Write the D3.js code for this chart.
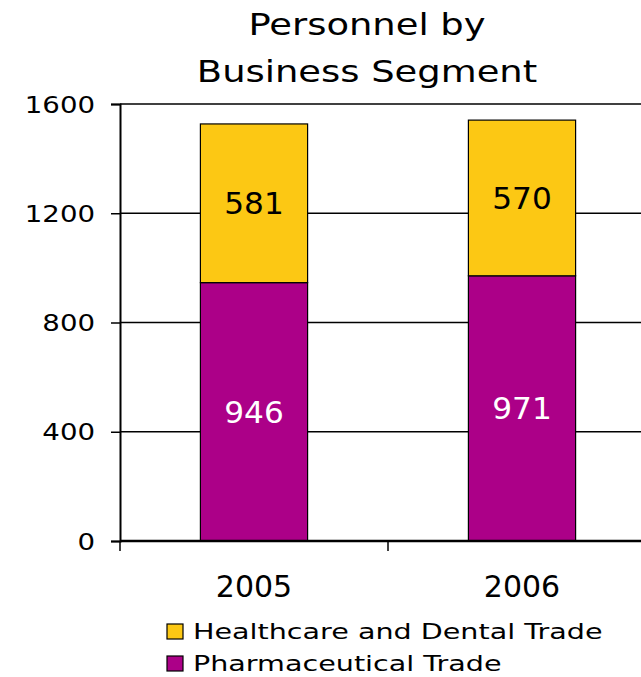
<!DOCTYPE html>
<html>
<head>
<meta charset="utf-8">
<script src="https://cdn.jsdelivr.net/npm/d3@7"></script>
<style>
  html, body { margin: 0; padding: 0; background: #fff; }
  svg { display: block; font-family: "DejaVu Sans", Verdana, sans-serif; }
</style>
</head>
<body>
<svg id="chart" width="641" height="677"></svg>
<script>
// Personnel counts per business segment, stacked by year
const years = ["2005", "2006"];
const pharmaceutical = [946, 971];
const healthcareDental = [581, 570];
const seriesNames = ["Healthcare and Dental Trade", "Pharmaceutical Trade"];
const yTicks = [0, 400, 800, 1200, 1600];

const colors = { pharma: "#AC0088", health: "#FCC814" };

const svg = d3.select("#chart");

// Widen a text element horizontally around its anchor point
function widen(sel, sx) {
  sel.each(function () {
    const t = d3.select(this);
    const x = +t.attr("x") || 0;
    const y = +t.attr("y") || 0;
    t.attr("x", 0).attr("y", 0)
      .attr("transform", `translate(${x},${y}) scale(${sx},1)`);
  });
}

const x = d3.scaleBand()
  .domain(years)
  .range([120, 656])
  .paddingInner(0.6)
  .paddingOuter(0.3);

const y = d3.scaleLinear().domain([0, 1600]).range([541, 104]);

// Title
const titleLines = ["Personnel by", "Business Segment"];
svg.append("g")
  .selectAll("text")
  .data(titleLines)
  .join("text")
  .attr("x", 367)
  .attr("y", (d, i) => 35 + i * 47)
  .attr("text-anchor", "middle")
  .attr("font-size", 30)
  .text(d => d)
  .call(widen, 1.23);

// Horizontal gridlines
svg.append("g")
  .selectAll("line")
  .data(yTicks.filter(d => d > 0))
  .join("line")
  .attr("x1", 120).attr("x2", 641)
  .attr("y1", d => y(d)).attr("y2", d => y(d))
  .attr("stroke", "#000").attr("stroke-width", 1.5);

// Stacked data
const rows = years.map((yr, i) => ({ year: yr, pharma: pharmaceutical[i], health: healthcareDental[i] }));
const stack = d3.stack().keys(["pharma", "health"])(rows);

svg.append("g")
  .selectAll("g")
  .data(stack)
  .join("g")
  .attr("fill", d => colors[d.key])
  .selectAll("rect")
  .data(d => d)
  .join("rect")
  .attr("x", d => x(d.data.year))
  .attr("width", x.bandwidth())
  .attr("y", d => y(d[1]))
  .attr("height", d => y(d[0]) - y(d[1]))
  .attr("stroke", "#000")
  .attr("stroke-width", 1.2);

// Value labels inside segments
stack.forEach(s => {
  svg.append("g")
    .selectAll("text")
    .data(s)
    .join("text")
    .attr("x", d => x(d.data.year) + x.bandwidth() / 2)
    .attr("y", d => (y(d[0]) + y(d[1])) / 2 + 11)
    .attr("text-anchor", "middle")
    .attr("font-size", 30)
    .attr("fill", s.key === "pharma" ? "#fff" : "#000")
    .text(d => d.data[s.key])
    .call(widen, 1.04);
});

// Y axis
const yAxis = d3.axisLeft(y).tickValues(yTicks).tickFormat(d3.format("d")).tickSize(9).tickPadding(16);
const gy = svg.append("g").attr("transform", "translate(120,0)").call(yAxis);
gy.select(".domain").attr("stroke-width", 2);
gy.selectAll(".tick line").attr("stroke-width", 1.5);
gy.selectAll(".tick text")
  .attr("font-size", 23).attr("font-family", "DejaVu Sans, sans-serif").attr("fill", "#000")
  .attr("dy", null).attr("y", 8)
  .call(widen, 1.2);

// X axis with boundary ticks between categories
const xAxis = d3.axisBottom(x).tickSize(0).tickPadding(0);
const gx = svg.append("g").attr("transform", "translate(0,541)").call(xAxis);
gx.select(".domain").attr("d", "M120,0H641").attr("stroke-width", 2.5);
gx.selectAll(".tick text")
  .attr("font-size", 30).attr("font-family", "DejaVu Sans, sans-serif").attr("fill", "#000")
  .attr("dy", null).attr("y", 56);

const boundaries = [x.range()[0], x("2006") - x.step() * x.paddingInner() / 2];
svg.append("g")
  .selectAll("line")
  .data(boundaries)
  .join("line")
  .attr("x1", d => d).attr("x2", d => d)
  .attr("y1", 541).attr("y2", 551)
  .attr("stroke", "#000").attr("stroke-width", 1.5);

// Legend
const legend = svg.append("g");
const legendColors = [colors.health, colors.pharma];
seriesNames.forEach((name, i) => {
  const g = legend.append("g").attr("transform", `translate(167,${624 + i * 32})`);
  g.append("rect").attr("width", 16).attr("height", 15)
    .attr("fill", legendColors[i]).attr("stroke", "#000").attr("stroke-width", 1.2);
  g.append("text").attr("x", 26).attr("y", 15)
    .attr("font-size", 22).text(name)
    .call(widen, 1.3);
});
</script>
</body>
</html>
